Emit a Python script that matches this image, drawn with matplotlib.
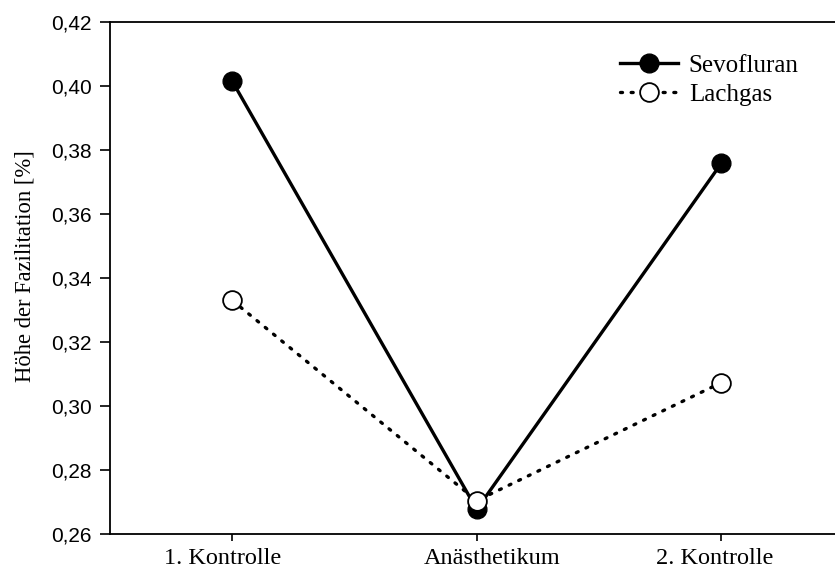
import matplotlib.pyplot as plt
from matplotlib.ticker import FuncFormatter
from matplotlib.transforms import ScaledTranslation

categories = ["1. Kontrolle", "Anästhetikum", "2. Kontrolle"]
sevofluran = [0.4015, 0.2677, 0.3758]
lachgas = [0.3330, 0.2704, 0.3073]

# label shift from tick in the original (pixels)
label_shift = [-10, 15, -7]

fig = plt.figure(figsize=(8.35, 5.69), dpi=100)
ax = fig.add_axes([110/835, 35/569, 733.5/835, 512/569])

x = range(len(categories))
ax.plot(x, sevofluran, color="black", lw=2.4, marker="o", ms=13.5,
        mfc="black", mec="black", label="Sevofluran", zorder=3)
ax.plot(x, lachgas, color="black", lw=2.4, ls=(0, (0.6, 2.6)), dash_capstyle="round",
        marker="o", ms=13.5, mfc="white", mec="black", mew=1.3, label="Lachgas", zorder=4)

ax.set_xlim(-0.5, 2.5)
ax.set_ylim(0.26, 0.42)
ax.set_yticks([0.26 + 0.02*i for i in range(9)])
ax.yaxis.set_major_formatter(FuncFormatter(lambda v, p: f"{v:.2f}".replace(".", ",")))
ax.set_xticks(list(x))
ax.set_xticklabels(categories, fontfamily="Liberation Serif", fontsize=17.5)
for t in ax.get_yticklabels():
    t.set_fontfamily("Liberation Sans")
    t.set_fontsize(15)
ax.tick_params(axis="y", direction="out", length=7, width=1.2, pad=6)
ax.tick_params(axis="x", direction="out", length=5, width=1.2, pad=5)
for s in ax.spines.values():
    s.set_linewidth(1.3)

for t, dx in zip(ax.get_xticklabels(), label_shift):
    t.set_transform(t.get_transform() + ScaledTranslation(dx/100, 0, fig.dpi_scale_trans))

ax.set_ylabel("Höhe der Fazilitation [%]", fontfamily="Liberation Serif", fontsize=16.3)
ax.yaxis.set_label_coords(-0.102, 0.524)

leg = ax.legend(loc="upper left", bbox_to_anchor=(0.678, 0.961), frameon=False,
                prop={"family": "Liberation Serif", "size": 18}, borderpad=0,
                handlelength=2.32, handletextpad=0.44, labelspacing=0.25)

fig.savefig("out.png", dpi=100)
